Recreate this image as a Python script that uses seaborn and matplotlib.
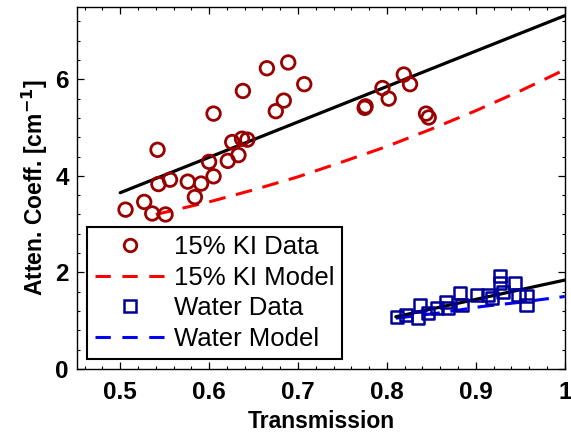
import matplotlib
matplotlib.use("Agg")
import matplotlib.pyplot as plt
import seaborn as sns
import pandas as pd
from matplotlib.lines import Line2D
from matplotlib.ticker import MultipleLocator

# ---- data ----
ki_x = [0.506, 0.527, 0.536, 0.551, 0.542, 0.543, 0.556, 0.576, 0.584, 0.591,
        0.605, 0.600, 0.605, 0.621, 0.633, 0.626, 0.637, 0.643, 0.638, 0.665,
        0.689, 0.707, 0.684, 0.675, 0.775, 0.776, 0.795, 0.802, 0.819, 0.826,
        0.844, 0.847]
ki_y = [3.30, 3.46, 3.22, 3.20, 4.54, 3.83, 3.92, 3.88, 3.56, 3.84,
        3.99, 4.29, 5.29, 4.31, 4.43, 4.70, 4.77, 4.75, 5.76, 6.23,
        6.35, 5.90, 5.56, 5.34, 5.41, 5.44, 5.82, 5.60, 6.10, 5.90,
        5.29, 5.21]

ki_model_x = [0.54, 0.60, 0.65, 0.70, 0.75, 0.80, 0.85, 0.90, 0.95, 1.00]
ki_model_y = [3.20, 3.46, 3.71, 3.98, 4.29, 4.61, 4.97, 5.35, 5.76, 6.20]

ki_fit_x = [0.50, 1.00]
ki_fit_y = [3.65, 7.32]

water_x = [0.811, 0.822, 0.837, 0.835, 0.846, 0.856, 0.867, 0.869, 0.882, 0.884,
           0.901, 0.914, 0.918, 0.927, 0.927, 0.931, 0.944, 0.948, 0.957, 0.957]
water_y = [1.07, 1.12, 1.32, 1.05, 1.15, 1.26, 1.39, 1.26, 1.57, 1.32,
           1.53, 1.53, 1.46, 1.92, 1.77, 1.60, 1.77, 1.53, 1.50, 1.32]

water_model_x = [0.81, 0.86, 0.906, 0.95, 1.00]
water_model_y = [1.05, 1.16, 1.29, 1.38, 1.50]

water_fit_x = [0.81, 1.00]
water_fit_y = [1.08, 1.84]

labels = ["15% KI Data", "15% KI Model", "Water Data", "Water Model"]
x_ticks = [0.5, 0.6, 0.7, 0.8, 0.9, 1.0]
x_tick_labels = ["0.5", "0.6", "0.7", "0.8", "0.9", "1"]
y_ticks = [0, 2, 4, 6]

# ---- style ----
sns.set_style("ticks")
plt.rcParams["font.family"] = ["Liberation Sans", "DejaVu Sans"]
for k in ["text.color", "axes.labelcolor", "xtick.color", "ytick.color", "axes.edgecolor"]:
    plt.rcParams[k] = "black"

fig = plt.figure(figsize=(5.71, 4.36), dpi=100)
ax = fig.add_axes([0.135, 0.154, 0.854, 0.83])

RED_D = "#990000"
NAVY = "#000099"
DASH = (0, (5.5, 3.5))

df_ki = pd.DataFrame({"x": ki_x, "y": ki_y})
df_w = pd.DataFrame({"x": water_x, "y": water_y})

sns.lineplot(x=ki_fit_x, y=ki_fit_y, ax=ax, color="black", lw=2.3, sort=False, estimator=None)
sns.lineplot(x=ki_model_x, y=ki_model_y, ax=ax, color="#ff0000", lw=2.2,
             linestyle=DASH, sort=False, estimator=None)
sns.scatterplot(data=df_ki, x="x", y="y", ax=ax, marker="o", s=95,
                facecolor="none", edgecolor=RED_D, linewidth=2.0, zorder=3)

sns.scatterplot(data=df_w, x="x", y="y", ax=ax, marker="s", s=75,
                facecolor="none", edgecolor=NAVY, linewidth=1.8, zorder=3)
sns.lineplot(x=water_model_x, y=water_model_y, ax=ax, color="#0000ff", lw=2.2,
             linestyle=DASH, sort=False, estimator=None)
sns.lineplot(x=water_fit_x, y=water_fit_y, ax=ax, color="black", lw=2.3, sort=False, estimator=None)

ax.set_xlim(0.4515, 1.0)
ax.set_ylim(0, 7.5)
ax.set_xticks(x_ticks)
ax.set_xticklabels(x_tick_labels)
ax.set_yticks(y_ticks)
ax.xaxis.set_minor_locator(MultipleLocator(0.02))
ax.yaxis.set_minor_locator(MultipleLocator(0.4))
ax.tick_params(which="both", direction="in", top=True, right=True, color="black")
ax.tick_params(which="major", length=5, width=0.9)
ax.tick_params(which="minor", length=2.5, width=0.8)
for lab in ax.get_xticklabels() + ax.get_yticklabels():
    lab.set_fontsize(17.5)
    lab.set_fontweight("bold")
ax.tick_params(axis="x", pad=9)
ax.tick_params(axis="y", pad=6)
for sp in ax.spines.values():
    sp.set_visible(True)
    sp.set_linewidth(1.0)
    sp.set_color("black")

ax.set_xlabel("Transmission", fontsize=16.5, fontweight="bold", labelpad=4)
ax.set_ylabel("Atten. Coeff. [cm$^{\\mathbf{-1}}$]", fontsize=16.5, fontweight="bold", labelpad=4)

handles = [
    Line2D([], [], marker="o", ls="none", mfc="none", mec=RED_D, mew=2.0, ms=9),
    Line2D([], [], color="#ff0000", lw=2.2, ls=(0, (5.0, 3.8))),
    Line2D([], [], marker="s", ls="none", mfc="none", mec=NAVY, mew=1.8, ms=8),
    Line2D([], [], color="#0000ff", lw=2.2, ls=(0, (5.0, 3.8))),
]
leg = ax.legend(handles, labels, loc="lower left", bbox_to_anchor=(0.02, 0.028),
                fontsize=18.5, frameon=True, fancybox=False, handlelength=2.75,
                handletextpad=0.35, borderpad=0.3, labelspacing=0.26,
                borderaxespad=0)
leg.get_frame().set_edgecolor("black")
leg.get_frame().set_linewidth(1.5)
leg.get_frame().set_alpha(1)

fig.savefig("out.png", dpi=100)
